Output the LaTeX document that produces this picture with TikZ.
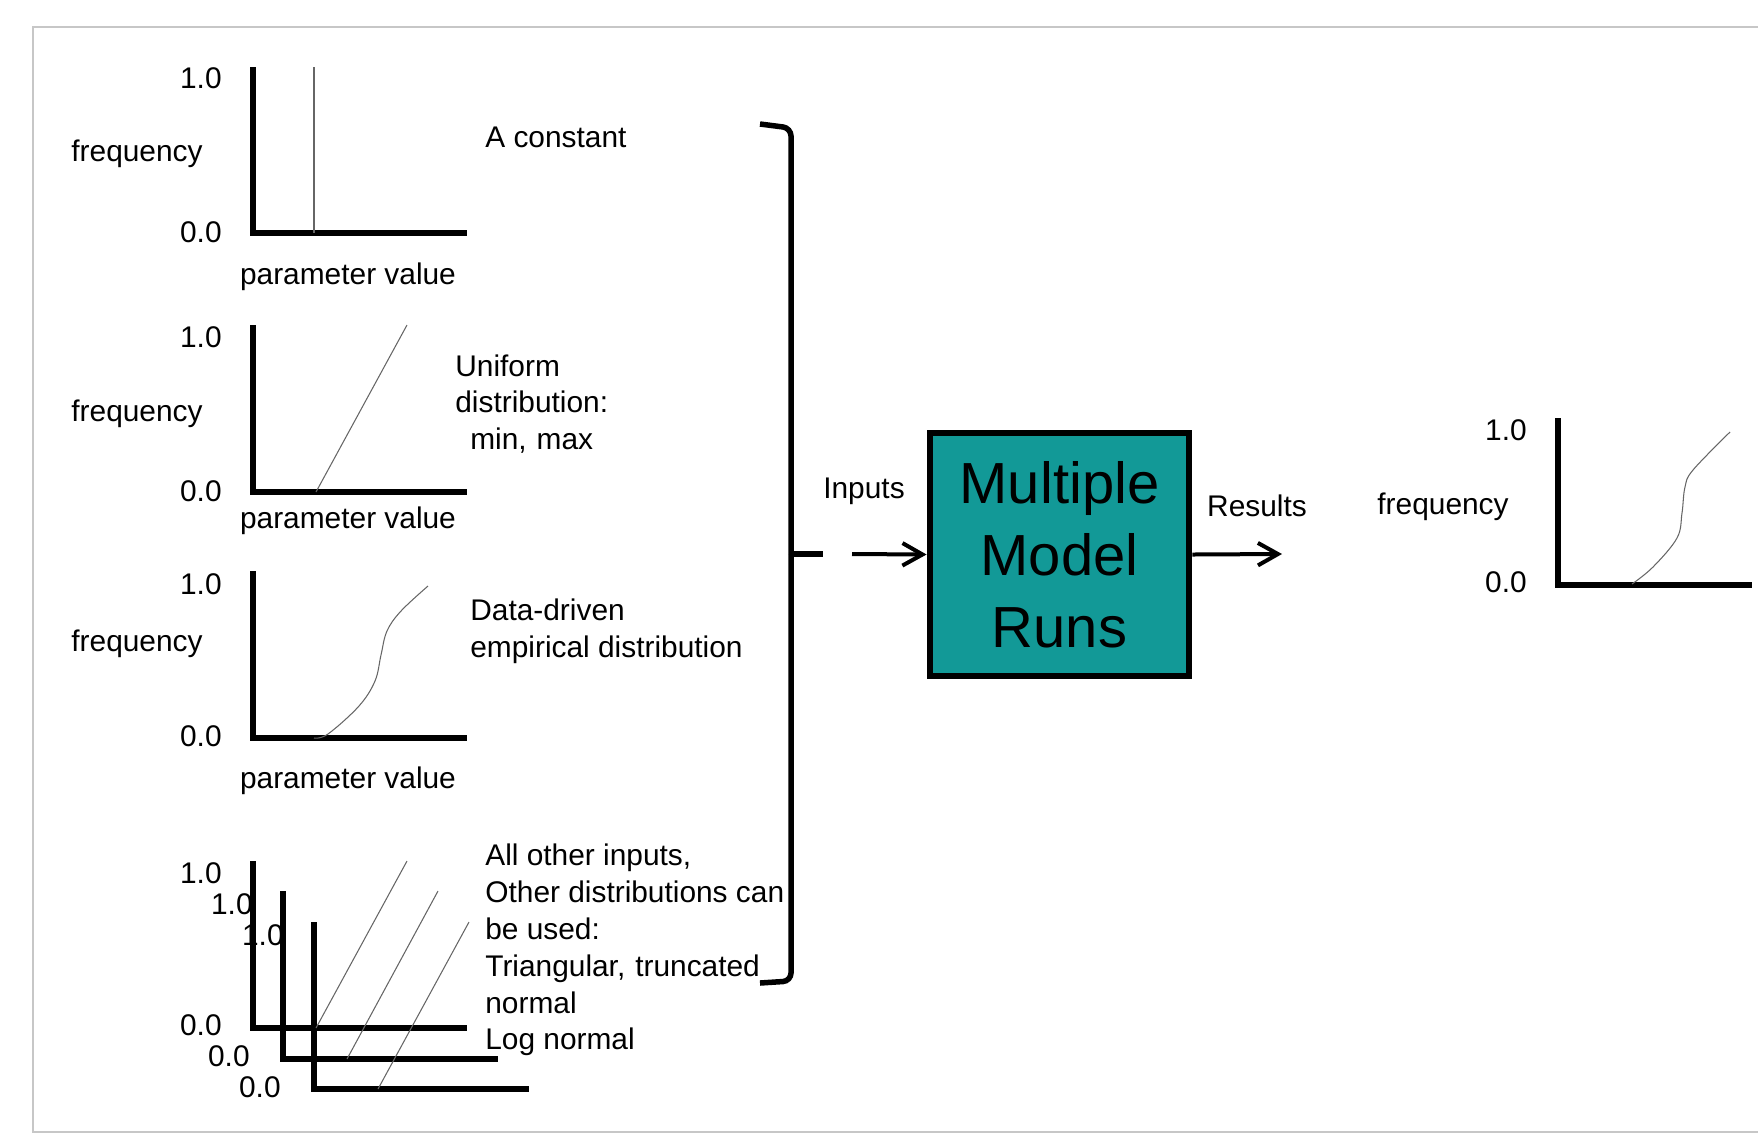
\documentclass[tikz,border=0pt]{standalone}
\usepackage{fontspec}
\setmainfont{Liberation Sans}
\usetikzlibrary{arrows.meta, positioning}
\definecolor{runteal}{RGB}{18,153,151}

\begin{document}
\begin{tikzpicture}[x=0.02cm, y=-0.02cm,
  lbl/.style={font=\fontsize{17}{21}\selectfont, inner sep=0pt},
  tick/.style={lbl, anchor=east},
  note/.style={lbl, anchor=west, align=left},
  axis/.style={line width=0.12cm, line join=miter},
  curve/.style={draw=black!60, line width=0.6pt},
  brace/.style={line width=0.11cm, rounded corners=0.16cm},
  arr/.style={-{Straight Barb[length=0.4cm, width=0.45cm]}, line width=0.08cm},
  model/.style={rectangle, draw, line width=0.12cm, fill=runteal,
    minimum width=5.2cm, minimum height=4.88cm, align=center,
    font=\fontsize{33}{41}\selectfont},
  frame/.style={draw=black!22, line width=0.05cm},
]
\useasboundingbox (0,0) rectangle (1758,1134);

% Frame
\draw[frame] (1758,27) -- (33,27) -- (33,1132) -- (1758,1132);

% Chart 1 - constant
\node[tick] (c1top) at (222,78) {1.0};
\node[tick] (c1bot) at (222,232) {0.0};
\node[lbl] (c1freq) at (137,154) {frequency};
\node[lbl] (c1par) at (348,277) {parameter value};
\draw[axis] (253,67) -- (253,233) -- (467,233);
\draw[curve] (314,67) -- (314,233);
\node[note] (c1txt) at (485,137) {A constant};

% Chart 2 - uniform
\node[tick] (c2top) at (222,337) {1.0};
\node[tick] (c2bot) at (222,491) {0.0};
\node[lbl] (c2freq) at (137,414) {frequency};
\node[lbl] (c2par) at (348,521) {parameter value};
\draw[axis] (253,325) -- (253,492) -- (467,492);
\draw[curve] (316,492) -- (407,325);
\node[note] (c2txt) at (455,404) {Uniform\\distribution:\\\hspace{0.5em}min,\,\,max};

% Chart 3 - empirical
\node[tick] (c3top) at (222,584) {1.0};
\node[tick] (c3bot) at (222,736) {0.0};
\node[lbl] (c3freq) at (137,644) {frequency};
\node[lbl] (c3par) at (348,781) {parameter value};
\draw[axis] (253,571) -- (253,738) -- (467,738);
\draw[curve] plot[smooth, tension=0.6] coordinates
  {(314,738) (328,734) (359,706) (375,681) (381,655) (387,631) (401,611) (428,586)};
\node[note] (c3txt) at (470,631) {Data-driven\\empirical distribution};

% Chart 4 - other distributions
\node[tick] (c4top) at (222,873) {1.0};
\node[tick] (c4bot) at (222,1025) {0.0};
\node[tick] (c5top) at (253,904) {1.0};
\node[tick] (c5bot) at (250,1056) {0.0};
\node[tick] (c6top) at (284,935) {1.0};
\node[tick] (c6bot) at (281,1087) {0.0};
\draw[axis] (253,861) -- (253,1028) -- (467,1028);
\draw[axis] (283,891) -- (283,1059) -- (498,1059);
\draw[axis] (314,922) -- (314,1089) -- (529,1089);
\draw[curve] (316,1028) -- (407,861);
\draw[curve] (347,1059) -- (438,891);
\draw[curve] (378,1089) -- (469,922);
\node[note] (c4txt) at (485,950) {All other inputs,\\Other distributions can\\be used:\\Triangular,\,\,truncated\\normal\\Log normal};

% Brace
\draw[brace] (760,124) -- (791,128) -- (791,554);
\draw[brace] (791,554) -- (791,981) -- (760,983);
\draw[line width=0.11cm] (791,554) -- (823,554);
\coordinate (in) at (852,554);

% Model runs
\node[model] (runs) at (1059.5,554.5) {Multiple\\Model\\Runs};
\node[lbl] (inlbl) at (864,491) {Inputs};
\node[lbl] (outlbl) at (1257,506) {Results};
\coordinate (out) at (1282,554);
\draw[arr] (in) -- (runs.west);
\draw[arr] (runs.east) -- (out);

% Result chart
\node[tick] (rtop) at (1527,430) {1.0};
\node[tick] (rbot) at (1527,582) {0.0};
\node[lbl] (rfreq) at (1443,507) {frequency};
\draw[axis] (1558,418) -- (1558,585) -- (1752,585);
\draw[curve] plot[smooth, tension=0.6] coordinates
  {(1632,584) (1653,567) (1677,538) (1682,513) (1685,487) (1693,470) (1730,432)};

\end{tikzpicture}
\end{document}
